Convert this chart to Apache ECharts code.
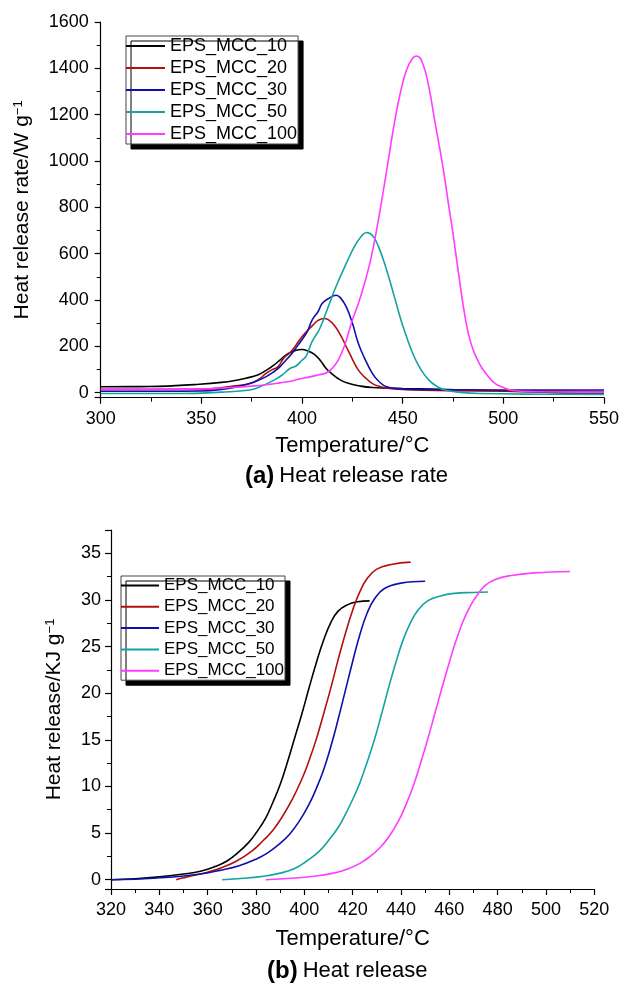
<!DOCTYPE html>
<html>
<head>
<meta charset="utf-8">
<script src="https://cdn.jsdelivr.net/npm/echarts@6/dist/echarts.min.js"></script>
<style>html,body{margin:0;padding:0;background:#fff;}#c{width:622px;height:985px;}</style>
</head>
<body>
<div id="c"></div>
<script>
// ---- Data ----
var seriesNames = ['EPS_MCC_10', 'EPS_MCC_20', 'EPS_MCC_30', 'EPS_MCC_50', 'EPS_MCC_100'];
var colors = ['#000000', '#b01010', '#1010a8', '#14a3a0', '#ff3cff'];

// (a) Heat release rate [T (°C), HRR (W/g)]
var hrr10 = [[300,25],[320,26],[333,28],[349,36],[360,44],[366,51],[372,62],[378,76],[382,95],[386,119],[389,140],[392,162],[396,180],[400,186],[403,180],[406,166],[409,140],[412,104],[415,80],[419,55],[423,40],[429,28],[435,22],[450,18],[468,14],[485,10],[501,6],[520,2],[534,-2],[550,-1]];
var hrr20 = [[300,14],[330,14],[350,14],[366,28],[374,39],[379,60],[382,82],[385,98],[388,111],[391,150],[394,172],[397,205],[400,241],[403,270],[406,296],[408,312],[411,320],[413,315],[416,291],[419,250],[422,198],[425,145],[428,97],[431,68],[435,39],[439,25],[443,18],[460,10],[500,7],[550,5]];
var hrr30 = [[300,6],[330,6],[350,7],[360,14],[369,28],[376,45],[382,68],[386,90],[389,111],[392,140],[395,169],[398,205],[401,241],[403,270],[405,313],[408,350],[410,385],[413,405],[417,420],[419,410],[422,370],[425,300],[428,212],[431,150],[435,82],[438,50],[442,25],[448,17],[455,14],[480,12],[520,11],[550,11]];
var hrr50 = [[300,-4],[340,-4],[360,2],[374,11],[380,28],[386,54],[390,75],[394,104],[397,115],[400,140],[402,156],[405,220],[409,280],[413,370],[417,460],[422,558],[426,630],[429,670],[432,691],[435,678],[438,630],[442,530],[446,410],[450,290],[455,169],[459,100],[463,54],[467,27],[471,11],[480,0],[488,-4],[520,-7],[550,-8]];
var hrr100 = [[300,14],[330,15],[350,16],[365,22],[375,28],[383,35],[389,42],[395,50],[399,60],[404,68],[408,76],[412,85],[415,105],[418,140],[421,200],[425,313],[428,385],[431,470],[434,570],[437,700],[440,850],[443,1010],[446,1170],[449,1300],[452,1395],[455,1445],[457,1453],[460,1420],[463,1320],[466,1170],[470,975],[473,800],[475,687],[478,500],[481,327],[484,210],[488,126],[492,75],[496,39],[500,22],[504,10],[515,4],[550,2]];

// (b) Heat release [T (°C), HR (kJ/g)]
var hr10 = [[320,0],[330,0.1],[340,0.3],[350,0.6],[357,0.9],[363,1.4],[368,2.0],[373,3.0],[377,4.0],[380,5.0],[384,6.6],[387,8.3],[390,10.2],[393,12.6],[396,15.2],[399,17.8],[402,20.6],[405,23.3],[408,25.7],[411,27.6],[414,28.8],[418,29.5],[422,29.8],[427,29.9]];
var hr20 = [[347,0],[350,0.2],[354,0.45],[360,0.8],[366,1.3],[372,2.0],[378,3.0],[383,4.2],[387,5.3],[391,6.8],[395,8.6],[399,10.8],[402,12.8],[405,15.1],[408,17.8],[411,20.6],[414,23.6],[417,26.4],[420,28.9],[423,30.9],[426,32.3],[430,33.3],[436,33.8],[444,34.05]];
var hr30 = [[320,0],[330,0.05],[340,0.2],[350,0.4],[357,0.6],[365,1.0],[373,1.5],[380,2.2],[385,2.9],[390,3.9],[394,4.9],[398,6.3],[402,8.1],[405,9.8],[408,11.8],[411,14.3],[414,17.2],[417,20.3],[420,23.4],[423,26.3],[426,28.6],[429,30.1],[433,31.2],[440,31.8],[450,32.0]];
var hr50 = [[366,0],[375,0.15],[384,0.4],[390,0.7],[396,1.2],[401,2.0],[406,3.0],[410,4.2],[414,5.6],[417,7.0],[420,8.6],[423,10.4],[426,12.6],[429,15.0],[432,17.8],[435,20.7],[438,23.4],[441,25.8],[444,27.6],[447,28.9],[451,29.9],[456,30.4],[462,30.7],[470,30.8],[476,30.85]];
var hr100 = [[384,0],[395,0.15],[405,0.4],[412,0.7],[418,1.15],[423,1.75],[427,2.45],[431,3.35],[435,4.6],[439,6.3],[442,8.0],[445,10.0],[448,12.4],[451,15.0],[454,17.8],[457,20.6],[460,23.3],[463,25.8],[466,27.9],[469,29.5],[472,30.7],[475,31.6],[479,32.2],[485,32.6],[495,32.9],[510,33.05]];

var hrrData = [hrr10, hrr20, hrr30, hrr50, hrr100];
var hrData = [hr10, hr20, hr30, hr50, hr100];

// ---- Chart ----
var FONT = 'Liberation Sans, Arial, Helvetica, sans-serif';
var chart = echarts.init(document.getElementById('c'), null, {renderer: 'canvas'});

function axisCommon() {
  return {
    axisLine: {show: true, onZero: false, lineStyle: {color: '#000', width: 1.2}},
    axisTick: {show: true, inside: false, length: 6, lineStyle: {color: '#000', width: 1.2}},
    minorTick: {show: true, splitNumber: 2, length: 4, lineStyle: {color: '#000', width: 1}},
    splitLine: {show: false},
    minorSplitLine: {show: false},
    axisLabel: {color: '#000', fontSize: 18, fontFamily: FONT, margin: 12},
    nameTextStyle: {color: '#000', fontSize: 22, fontFamily: FONT}
  };
}

function merge(a, b) { for (var k in b) a[k] = b[k]; return a; }

var series = [];
for (var i = 0; i < seriesNames.length; i++) {
  series.push({
    name: seriesNames[i], type: 'line', xAxisIndex: 0, yAxisIndex: 0,
    data: hrrData[i], showSymbol: false, symbol: 'none', smooth: 0.45, clip: true,
    lineStyle: {color: colors[i], width: 1.6}, itemStyle: {color: colors[i]}
  });
}
for (var j = 0; j < seriesNames.length; j++) {
  series.push({
    name: seriesNames[j], type: 'line', xAxisIndex: 1, yAxisIndex: 1,
    data: hrData[j], showSymbol: false, symbol: 'none', smooth: 0.45, clip: true,
    lineStyle: {color: colors[j], width: 1.6}, itemStyle: {color: colors[j]}
  });
}

var legendBase = {
  orient: 'vertical',
  data: seriesNames,
  selectedMode: false,
  icon: 'rect',
  itemHeight: 2,
  borderColor: '#444',
  borderWidth: 1,
  backgroundColor: '#fff',
  shadowColor: '#000',
  shadowBlur: 0,
  shadowOffsetX: 5,
  shadowOffsetY: 5
};

var option = {
  animation: false,
  backgroundColor: '#fff',
  textStyle: {fontFamily: FONT},
  title: [
    {
      text: '{b|(a)} {n|Heat release rate}', left: 245, top: 464, padding: 0,
      textStyle: {rich: {
        b: {fontSize: 24, fontWeight: 'bold', fontFamily: FONT, color: '#000'},
        n: {fontSize: 22, fontWeight: 'normal', fontFamily: FONT, color: '#000'}
      }}
    },
    {
      text: '{b|(b)} {n|Heat release}', left: 267, top: 959, padding: 0,
      textStyle: {rich: {
        b: {fontSize: 24, fontWeight: 'bold', fontFamily: FONT, color: '#000'},
        n: {fontSize: 22, fontWeight: 'normal', fontFamily: FONT, color: '#000'}
      }}
    }
  ],
  legend: [
    merge(merge({}, legendBase), {
      left: 126, top: 36, itemWidth: 39, itemGap: 4, padding: [1, 1, 1, 0],
      textStyle: {fontSize: 18, fontFamily: FONT, color: '#000'}
    }),
    merge(merge({}, legendBase), {
      left: 121, top: 576, itemWidth: 38, itemGap: 4.3, padding: [1, 1, 1, 0],
      textStyle: {fontSize: 17, fontFamily: FONT, color: '#000'}
    })
  ],
  grid: [
    {left: 100.7, right: 16.3, top: 22, bottom: 587.3, containLabel: false},
    {left: 111, right: 27.7, top: 530, bottom: 96, containLabel: false}
  ],
  xAxis: [
    merge(axisCommon(), {
      type: 'value', gridIndex: 0, min: 300, max: 550, interval: 50,
      name: 'Temperature/°C', nameLocation: 'middle', nameGap: 37
    }),
    merge(axisCommon(), {
      type: 'value', gridIndex: 1, min: 320, max: 520, interval: 20,
      name: 'Temperature/°C', nameLocation: 'middle', nameGap: 39
    })
  ],
  yAxis: [
    merge(axisCommon(), {
      type: 'value', gridIndex: 0, min: -22, max: 1600, splitNumber: 8,
      name: 'Heat release rate/W g{s|−1}', nameLocation: 'middle', nameGap: 68, nameRotate: 90,
      nameTextStyle: {color: '#000', fontSize: 21, fontFamily: FONT,
        rich: {s: {fontSize: 13, fontFamily: FONT, color: '#000', verticalAlign: 'top'}}},
      axisLabel: {color: '#000', fontSize: 18, fontFamily: FONT, margin: 12,
        formatter: function (v) { return (v >= 0 && Math.abs(v % 200) < 1e-6) ? String(v) : ''; }}
    }),
    merge(axisCommon(), {
      type: 'value', gridIndex: 1, min: -1, max: 37.5, splitNumber: 7,
      name: 'Heat release/KJ g{s|−1}', nameLocation: 'middle', nameGap: 46, nameRotate: 90,
      nameTextStyle: {color: '#000', fontSize: 21, fontFamily: FONT,
        rich: {s: {fontSize: 13, fontFamily: FONT, color: '#000', verticalAlign: 'top'}}},
      axisLabel: {color: '#000', fontSize: 18, fontFamily: FONT, margin: 10,
        formatter: function (v) { return (v >= 0 && Math.abs(v % 5) < 1e-6) ? String(v) : ''; }}
    })
  ],
  series: series
};
chart.setOption(option);
</script>
</body>
</html>
